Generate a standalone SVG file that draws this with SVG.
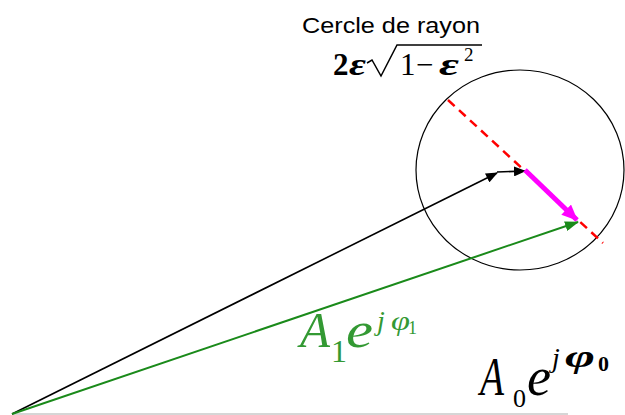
<svg xmlns="http://www.w3.org/2000/svg" width="625" height="415" viewBox="0 0 625 415">
<style>
.sans{font-family:"Liberation Sans",Arial,sans-serif;}
.serif{font-family:"Liberation Serif","Times New Roman",serif;}
.it{font-style:italic;}
.b{font-weight:bold;}
.vec{fill:none;stroke-linecap:butt;}
</style>
<defs>
<marker id="ahBlack" markerUnits="userSpaceOnUse" markerWidth="12" markerHeight="10" refX="11" refY="5" orient="auto">
<path d="M0,0 L12,5 L0,10 Z" fill="#000"/>
</marker>
<marker id="ahGreen" markerUnits="userSpaceOnUse" markerWidth="14" markerHeight="10" refX="13" refY="5" orient="auto">
<path d="M0,0 L14,5 L0,10 Z" fill="#1a8a1a"/>
</marker>
<marker id="ahMagenta" markerUnits="userSpaceOnUse" markerWidth="16" markerHeight="14" refX="15" refY="7" orient="auto">
<path d="M0,0 L16,7 L0,14 Z" fill="#ff00ff"/>
</marker>
</defs>
<rect width="625" height="415" fill="#fff"/>
<line x1="12" y1="414" x2="568" y2="414" stroke="#c8c8c8" stroke-width="1.5"/>
<g id="circle">
<ellipse cx="520" cy="170" rx="104" ry="100" fill="none" stroke="#000" stroke-width="1.2"/>
</g>
<g id="caption" fill="#000">
<text class="sans" x="302" y="33" font-size="22" textLength="178" lengthAdjust="spacingAndGlyphs">Cercle de rayon</text>
<text class="serif b" x="333" y="75" font-size="31">2</text>
<text class="serif b it" x="349" y="75" font-size="31" textLength="17" lengthAdjust="spacingAndGlyphs">ε</text>
<polyline points="367,63 372,60 381,76 397,45 482,45" fill="none" stroke="#000" stroke-width="1.5" stroke-linejoin="miter"/>
<text class="serif" x="400" y="75" font-size="31">1</text>
<text class="serif" x="416" y="75" font-size="31">−</text>
<text class="serif b it" x="439" y="75" font-size="31" textLength="20" lengthAdjust="spacingAndGlyphs">ε</text>
<text class="serif" x="464" y="61" font-size="19">2</text>
</g>
<g id="connectors">
<line class="vec" x1="448" y1="100" x2="603" y2="243" stroke="#ff0000" stroke-width="2.5" stroke-dasharray="9,6"/>
<line class="vec" x1="12" y1="414" x2="497" y2="173" stroke="#000" stroke-width="1.6" marker-end="url(#ahBlack)"/>
<line class="vec" x1="497" y1="172" x2="525" y2="171" stroke="#000" stroke-width="1.6" marker-end="url(#ahBlack)"/>
<line class="vec" x1="525" y1="170" x2="577" y2="220" stroke="#ff00ff" stroke-width="5" marker-end="url(#ahMagenta)"/>
<line class="vec" x1="12" y1="414" x2="578" y2="222" stroke="#1a8a1a" stroke-width="2" marker-end="url(#ahGreen)"/>
</g>
<g id="label-A1" fill="#339933">
<text class="serif"><tspan class="it" x="300" y="347" font-size="50" textLength="30" lengthAdjust="spacingAndGlyphs">A</tspan><tspan x="331" y="362" font-size="32">1</tspan><tspan class="it" x="346" y="347" font-size="50" textLength="27" lengthAdjust="spacingAndGlyphs">e</tspan><tspan class="it" x="377" y="330" font-size="28">j</tspan><tspan class="it" x="391" y="330" font-size="28" textLength="19" lengthAdjust="spacingAndGlyphs">φ</tspan><tspan x="408" y="334" font-size="18">1</tspan></text>
</g>
<g id="label-A0" fill="#000">
<text class="serif"><tspan class="it" x="480" y="395" font-size="54" textLength="24" lengthAdjust="spacingAndGlyphs">A</tspan><tspan x="513" y="407" font-size="26">0</tspan><tspan class="it" x="527" y="395" font-size="54" textLength="24" lengthAdjust="spacingAndGlyphs">e</tspan><tspan class="it" x="552" y="367" font-size="28">j</tspan><tspan class="it b" x="565" y="367" font-size="32" textLength="30" lengthAdjust="spacingAndGlyphs">φ</tspan><tspan class="b" x="598" y="371" font-size="22">0</tspan></text>
</g>
</svg>
